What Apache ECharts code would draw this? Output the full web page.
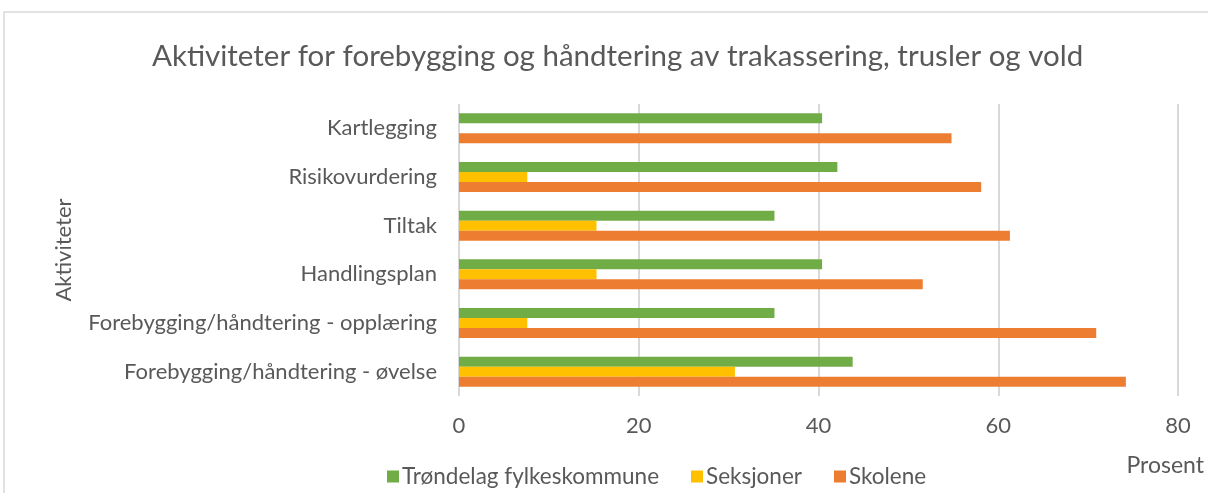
<!DOCTYPE html>
<html>
<head>
<meta charset="utf-8">
<script src="https://cdn.jsdelivr.net/npm/echarts@6/dist/echarts.min.js"></script>
<style>
  html, body { margin: 0; padding: 0; background: #fff; }
  #main { width: 1208px; height: 493px; }
</style>
</head>
<body>
<div id="main"></div>
<script>
// data
const categories = [
  'Kartlegging',
  'Risikovurdering',
  'Tiltak',
  'Handlingsplan',
  'Forebygging/håndtering - opplæring',
  'Forebygging/håndtering - øvelse'
]
const trondelag = [40.4, 42.1, 35.1, 40.4, 35.1, 43.8]
const seksjoner = [0, 7.6, 15.3, 15.3, 7.6, 30.7]
const skolene = [54.8, 58.1, 61.3, 51.6, 70.9, 74.2]
const xTicks = [0, 20, 40, 60, 80]

const font = 'Lato'
const grey = '#595959'

const chart = echarts.init(document.getElementById('main'))
chart.setOption({
  animation: false,
  backgroundColor: '#fff',
  textStyle: { fontFamily: font },
  title: {
    text: 'Aktiviteter for forebygging og håndtering av trakassering, trusler og vold',
    left: 147,
    top: 36,
    textStyle: { fontFamily: font, fontSize: 29.5, fontWeight: 'normal', color: grey }
  },
  legend: {
    left: 382,
    top: 460,
    itemWidth: 12,
    itemHeight: 12,
    itemGap: 32,
    icon: 'rect',
    textStyle: { fontFamily: font, fontSize: 22.5, color: grey, padding: [0, 0, 0, -2] },
    data: ['Trøndelag fylkeskommune', 'Seksjoner', 'Skolene']
  },
  grid: { left: 459, right: 30, top: 104, bottom: 97 },
  xAxis: {
    type: 'value',
    min: xTicks[0],
    max: xTicks[xTicks.length - 1],
    interval: 20,
    axisLine: { show: false },
    axisTick: { show: false },
    axisLabel: { fontFamily: font, fontSize: 22, color: grey, margin: 19 },
    splitLine: { lineStyle: { color: '#d9d9d9', width: 2 } }
  },
  yAxis: {
    type: 'category',
    data: categories,
    inverse: true,
    name: 'Aktiviteter',
    nameLocation: 'middle',
    nameGap: 384,
    nameTextStyle: { fontFamily: font, fontSize: 22, color: grey },
    axisLine: { show: false },
    axisTick: { show: false },
    axisLabel: { fontFamily: font, fontSize: 22, color: grey, margin: 22 }
  },
  graphic: [
    {
      type: 'rect',
      shape: { x: 4, y: 12, width: 1220, height: 500 },
      style: { fill: 'none', stroke: '#d9d9d9', lineWidth: 1.5 },
      silent: true
    },
    {
      type: 'text',
      right: 4,
      top: 454,
      style: { text: 'Prosent', fontFamily: font, fontSize: 23, fill: grey }
    }
  ],
  series: [
    {
      name: 'Trøndelag fylkeskommune',
      type: 'bar',
      data: trondelag,
      barWidth: 10,
      barGap: '0%',
      itemStyle: { color: '#70ad47' }
    },
    {
      name: 'Seksjoner',
      type: 'bar',
      data: seksjoner,
      barWidth: 10,
      barGap: '0%',
      itemStyle: { color: '#ffc000' }
    },
    {
      name: 'Skolene',
      type: 'bar',
      data: skolene,
      barWidth: 10,
      barGap: '0%',
      itemStyle: { color: '#ed7d31' }
    }
  ]
})
</script>
</body>
</html>
